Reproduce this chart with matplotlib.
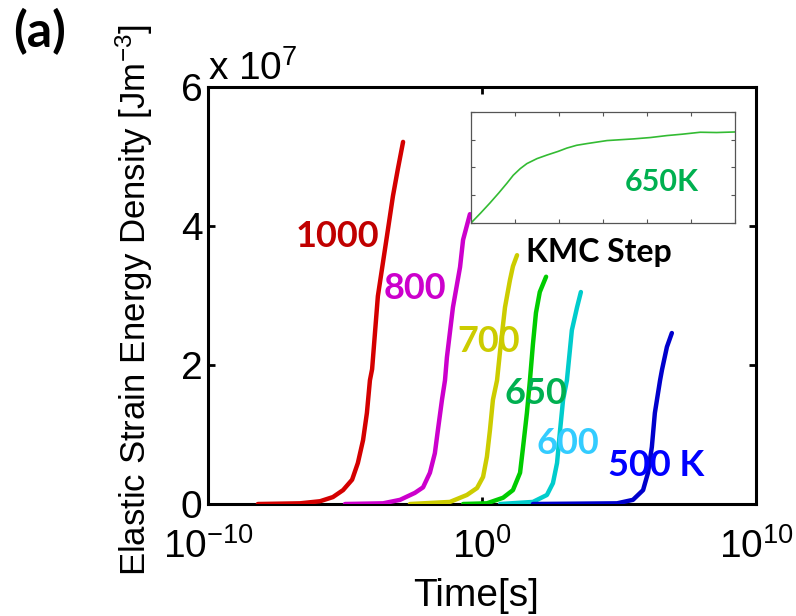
import numpy as np
import matplotlib
matplotlib.use("Agg")
from matplotlib import pyplot as plt
from matplotlib.ticker import FixedLocator, NullLocator, LogFormatterSciNotation

plt.rcParams['font.family'] = ['Liberation Sans', 'DejaVu Sans']
plt.rcParams['mathtext.default'] = 'regular'

# log10(time [s]) and strain energy density (units of 1e7 J/m^3) for each temperature
logt_1000 = [-8.18, -6.64, -5.91, -5.44, -5.07, -4.74, -4.53, -4.34, -4.20, -4.09,
             -4.01, -3.80, -3.47, -3.25, -3.07, -2.88]
e_1000 = [0.0, 0.01, 0.04, 0.10, 0.20, 0.35, 0.59, 0.92, 1.31, 1.78,
          1.94, 2.99, 3.85, 4.43, 4.82, 5.21]

logt_800 = [-5.00, -3.61, -2.99, -2.45, -2.15, -1.90, -1.72, -1.61, -1.46, -1.35,
            -1.28, -1.06, -0.80, -0.69, -0.44]
e_800 = [0.0, 0.01, 0.06, 0.16, 0.24, 0.45, 0.73, 1.06, 1.50, 1.78,
         2.11, 2.83, 3.41, 3.80, 4.17]

logt_700 = [-2.63, -1.17, -0.55, -0.18, 0.04, 0.18, 0.29, 0.40, 0.55, 0.66,
            0.84, 1.02, 1.13, 1.28]
e_700 = [0.0, 0.03, 0.13, 0.23, 0.39, 0.68, 1.06, 1.50, 1.78, 2.20,
         2.83, 3.22, 3.42, 3.58]

logt_650 = [-0.69, 0.18, 0.77, 1.13, 1.39, 1.50, 1.64, 1.75, 1.86, 1.97, 2.11, 2.34]
e_650 = [0.0, 0.01, 0.09, 0.20, 0.45, 0.82, 1.31, 1.78, 2.30, 2.75, 3.05, 3.27]

logt_600 = [0.66, 1.86, 2.37, 2.59, 2.74, 2.85, 2.96, 3.10, 3.28, 3.47, 3.61]
e_600 = [0.0, 0.03, 0.13, 0.30, 0.59, 1.06, 1.50, 1.78, 2.50, 2.83, 3.05]

logt_500 = [1.86, 4.93, 5.51, 5.88, 6.06, 6.20, 6.31, 6.50, 6.57, 6.75, 6.93]
e_500 = [0.0, 0.01, 0.06, 0.20, 0.45, 0.82, 1.31, 1.78, 1.93, 2.26, 2.46]

# inset: energy vs KMC step at 650 K
kmc_step = [0, 0.22, 0.43, 0.63, 0.82, 0.96, 1.12, 1.27, 1.50, 1.73, 1.98, 2.18,
            2.40, 2.63, 2.88, 3.09, 3.39, 3.69, 4.08, 4.45, 4.80, 5.21, 5.58, 6.0]
kmc_energy = [0, 0.36, 0.72, 1.08, 1.44, 1.72, 1.96, 2.14, 2.32, 2.45, 2.58, 2.70,
              2.80, 2.86, 2.92, 2.97, 3.00, 3.03, 3.08, 3.15, 3.20, 3.27, 3.26, 3.28]

curves = [
    (logt_1000, e_1000, '#d40000', '1000', '#c00000', -5.29, 3.85),
    (logt_800, e_800, '#cc00cc', '800', '#cc00cc', -2.45, 3.10),
    (logt_700, e_700, '#cccc00', '700', '#cccc00', 0.26, 2.34),
    (logt_650, e_650, '#00cc00', '650', '#00b050', 1.97, 1.59),
    (logt_600, e_600, '#00cccc', '600', '#33ccff', 3.14, 0.87),
    (logt_500, e_500, '#0000cc', '500 K', '#0000ff', 6.35, 0.55),
]

fig = plt.figure(figsize=(7.96, 6.16), dpi=100)
ax = fig.add_axes([0.2613, 0.1818, 0.6884, 0.677])

for logt, e, c, lab, lc, lx, ly in curves:
    ax.plot(10.0 ** np.array(logt), e, color=c, lw=3.2, solid_capstyle='round',
            solid_joinstyle='round', zorder=3)
    ax.text(10.0 ** lx, ly, lab, color=lc, fontsize=26, fontweight='bold',
            family=['Lato', 'DejaVu Sans'], ha='center', va='center', zorder=4)

ax.set_xscale('log')
ax.set_xlim(1e-10, 1e10)
ax.set_ylim(0, 6)
ax.xaxis.set_major_locator(FixedLocator([1e-10, 1e0, 1e10]))
ax.xaxis.set_major_formatter(LogFormatterSciNotation())
ax.xaxis.set_minor_locator(NullLocator())
ax.set_yticks([0, 2, 4, 6])
ax.set_axisbelow(True)
ax.tick_params(direction='in', top=True, right=True, length=5, width=2,
               labelsize=28, pad=4)
ax.tick_params(axis='x', pad=17)
for s in ax.spines.values():
    s.set_linewidth(2.2)

ax.text(0.0, 0.998, r'x 10$^{7}$', transform=ax.transAxes, fontsize=28,
        ha='left', va='bottom')

ax.set_ylabel(r'Elastic Strain Energy Density [Jm$^{-3}$]', fontsize=25)
ax.yaxis.set_label_coords(-0.097, 0.49)
ax.set_xlabel('Time[s]', fontsize=28)
ax.xaxis.set_label_coords(0.49, -0.177)

ax.text(10.0 ** 4.27, 3.62, 'KMC Step', fontsize=23, fontweight='bold',
        family=['Lato', 'DejaVu Sans'], ha='center', va='center', zorder=4)

# inset with the KMC-step evolution
ins = fig.add_axes([0.5917, 0.638, 0.3317, 0.1802])
ins.plot(kmc_step, kmc_energy, color='#33bb33', lw=1.2)
ins.set_xlim(0, 6)
ins.set_ylim(0, 4)
ins.set_xticks(range(7))
ins.set_yticks(range(5))
ins.tick_params(direction='in', top=True, right=True, length=3, width=0.8,
                color='#555555', labelbottom=False, labelleft=False)
for s in ins.spines.values():
    s.set_linewidth(0.9)
    s.set_color('#555555')
ins.text(0.723, 0.37, '650K', transform=ins.transAxes, color='#00b050',
         fontsize=22, fontweight='bold', family=['Lato', 'DejaVu Sans'],
         ha='center', va='center')

fig.text(0.050, 0.948, '(a)', fontsize=36, fontweight='bold',
         family=['Lato', 'DejaVu Sans'], ha='center', va='center')

fig.savefig('out.png', dpi=100)
